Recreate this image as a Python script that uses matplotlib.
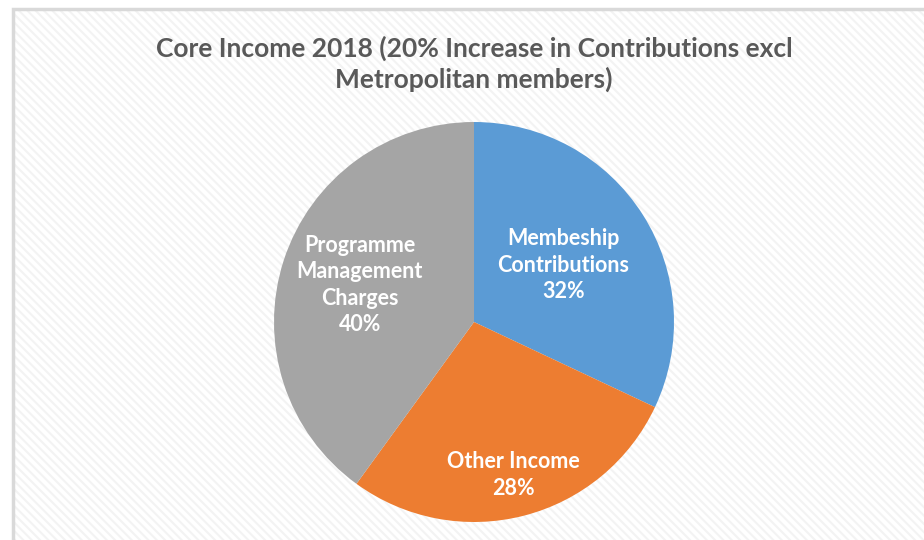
import numpy as np
import matplotlib.pyplot as plt
from matplotlib.patches import Rectangle

# slice data, clockwise from 12 o'clock
labels = ["Membeship\nContributions", "Other Income", "Programme\nManagement\nCharges"]
shares = [32, 28, 40]
colors = ["#5B9BD5", "#ED7D31", "#A5A5A5"]
title = "Core Income 2018 (20% Increase in Contributions excl\nMetropolitan members)"

# how far out (fraction of radius) each label sits
label_dist = [0.53, 0.79, 0.60]

plt.rcParams["font.family"] = ["Lato", "DejaVu Sans"]
plt.rcParams["hatch.linewidth"] = 1.5

fig = plt.figure(figsize=(9.24, 5.40), dpi=100)
ax = fig.add_axes([0, 0, 1, 1])

# chart area: faint hatched background with light border
bg = Rectangle((12.5, -5), 930, 536, facecolor="white", edgecolor="#f3f3f3",
               hatch="\\\\\\\\", linewidth=0, zorder=0)
ax.add_patch(bg)
border = Rectangle((12.5, -5), 930, 536, facecolor="none", edgecolor="#d9d9d9",
                   linewidth=2.5, zorder=1)
ax.add_patch(border)

cx, cy, r = 474, 540 - 322, 200
wedges, _ = ax.pie(shares, colors=colors, startangle=90, counterclock=False,
                   center=(cx, cy), radius=r, frame=True,
                   wedgeprops=dict(linewidth=0, zorder=3))
ax.set_xlim(0, 924)
ax.set_ylim(0, 540)
ax.set_aspect("equal")
ax.axis("off")

total = sum(shares)
for w, lab, val, d in zip(wedges, labels, shares, label_dist):
    mid = np.deg2rad((w.theta1 + w.theta2) / 2)
    x = cx + d * r * np.cos(mid)
    y = cy + d * r * np.sin(mid)
    ax.text(x, y, f"{lab}\n{val / total * 100:.0f}%", ha="center", va="center",
            color="white", fontsize=15.5, fontweight="bold", linespacing=1.32,
            zorder=5)

ax.text(474, 540 - 64, title, ha="center", va="center", fontsize=19,
        fontweight="bold", color="#595959", linespacing=1.28, zorder=5)

fig.savefig("out.png", dpi=100)
